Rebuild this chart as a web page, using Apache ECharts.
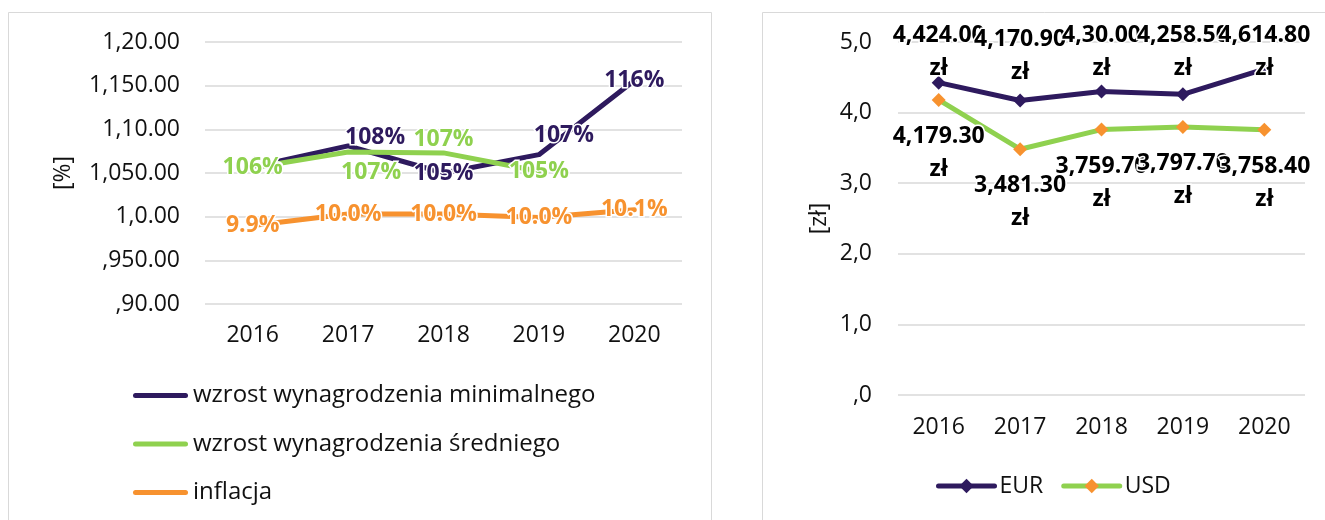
<!DOCTYPE html>
<html>
<head>
<meta charset="utf-8">
<script src="https://cdn.jsdelivr.net/npm/echarts@6/dist/echarts.min.js"></script>
<style>
  html, body { margin: 0; padding: 0; background: #fff; }
  #chart { width: 1325px; height: 520px; }
</style>
</head>
<body>
<div id="chart"></div>
<script>
// ---- data ----
const years = ['2016', '2017', '2018', '2019', '2020'];

// growth indices (previous year = 1.00)
const minWageGrowth = [1.057, 1.081, 1.050, 1.071, 1.156];
const avgWageGrowth = [1.056, 1.074, 1.073, 1.052, null];
const inflation = [0.990, 1.003, 1.003, 0.999, 1.008];
const growthTicks = [',90.00', ',950.00', '1,0.00', '1,050.00', '1,10.00', '1,150.00', '1,20.00'];

// exchange rates, PLN per unit
const eurRate = [4.424, 4.1709, 4.30, 4.2585, 4.6148];
const usdRate = [4.1793, 3.4813, 3.7597, 3.7977, 3.7584];
const rateTicks = [',0', '1,0', '2,0', '3,0', '4,0', '5,0'];

// ---- styling ----
const FONT = 'Open Sans';
const PURPLE = '#2e1a5e';
const GREEN = '#8fd14f';
const ORANGE = '#f7922f';
const GRID_COLOR = '#d9d9d9';
const TEXT = '#111';

// label nudges per point (dx, dy), for labels that sit beside the line
const minWageLabelShift = [[0, 0], [27, -8], [0, 0], [25, -19], [0, 0]];
const avgWageLabelShift = [[0, 0], [23, 20], [0, -13], [0, 0], [0, 0]];

// value labels of the rate chart follow the workbook's odd number format:
// whole part, comma, first fraction digits, then a dot before the rest
function rateLabel(v) {
  const parts = String(v).split('.');
  const frac = parts[1] || '';
  const head = frac.slice(0, 3).padEnd(2, '0');
  const tail = frac.slice(3).padEnd(2, '0');
  return parts[0] + ',' + head + '.' + tail + '\nzł';
}

function tickFrom(list, min, step) {
  return function (value) {
    return list[Math.round((value - min) / step)] || '';
  };
}

const labelBase = {
  show: true,
  fontFamily: FONT,
  fontSize: 23,
  fontWeight: 'bold',
  textBorderColor: '#fff',
  textBorderWidth: 3
};

function withShift(values, shifts) {
  return values.map((v, i) => ({ value: v, label: { offset: shifts[i] } }));
}

const PLOT_TOP = 18.5; // top edge available to the rate labels

const chart = echarts.init(document.getElementById('chart'), null, { renderer: 'canvas' });

chart.setOption({
  animation: false,
  backgroundColor: '#fff',
  textStyle: { fontFamily: FONT },
  graphic: [
    { type: 'rect', silent: true, z: -10,
      shape: { x: 8.5, y: 12.5, width: 703, height: 540 },
      style: { fill: null, stroke: GRID_COLOR, lineWidth: 1 } },
    { type: 'rect', silent: true, z: -10,
      shape: { x: 762.5, y: 12.5, width: 620, height: 540 },
      style: { fill: null, stroke: GRID_COLOR, lineWidth: 1 } }
  ],
  grid: [
    { left: 205, top: 42, width: 477, height: 262 },
    { left: 898, top: 42, width: 407, height: 353 }
  ],
  xAxis: [
    { type: 'category', gridIndex: 0, data: years, boundaryGap: true,
      axisLine: { show: false }, axisTick: { show: false },
      axisLabel: { fontFamily: FONT, fontSize: 23, color: TEXT, margin: 20 } },
    { type: 'category', gridIndex: 1, data: years, boundaryGap: true,
      axisLine: { show: false }, axisTick: { show: false },
      axisLabel: { fontFamily: FONT, fontSize: 23, color: TEXT, margin: 21 } }
  ],
  yAxis: [
    { type: 'value', gridIndex: 0, min: 0.9, max: 1.2, interval: 0.05,
      name: '[%]', nameLocation: 'middle', nameGap: 130,
      nameTextStyle: { fontFamily: FONT, fontSize: 23, color: TEXT },
      axisLine: { show: false }, axisTick: { show: false },
      axisLabel: { fontFamily: FONT, fontSize: 23, color: TEXT, margin: 25,
                   formatter: tickFrom(growthTicks, 0.9, 0.05) },
      splitLine: { lineStyle: { color: GRID_COLOR, width: 1.5 } } },
    { type: 'value', gridIndex: 1, min: 0, max: 5, interval: 1,
      name: '[zł]', nameLocation: 'middle', nameGap: 67,
      nameTextStyle: { fontFamily: FONT, fontSize: 23, color: TEXT },
      axisLine: { show: false }, axisTick: { show: false },
      axisLabel: { fontFamily: FONT, fontSize: 23, color: TEXT, margin: 26,
                   formatter: tickFrom(rateTicks, 0, 1) },
      splitLine: { lineStyle: { color: GRID_COLOR, width: 1.5 } } }
  ],
  legend: [
    { data: ['wzrost wynagrodzenia minimalnego', 'wzrost wynagrodzenia średniego', 'inflacja'],
      orient: 'vertical', left: 133, top: 383.5, padding: 0, itemGap: 24.5,
      itemWidth: 55, itemHeight: 5,
      icon: 'path://M2.5,0H52.5A2.5,2.5,0,0,1,52.5,5H2.5A2.5,2.5,0,0,1,2.5,0Z',
      selectedMode: false,
      textStyle: { fontFamily: FONT, fontSize: 24, color: TEXT } },
    { data: ['EUR', 'USD'],
      orient: 'horizontal', left: 936, top: 474.5, padding: 0, itemGap: 18,
      itemWidth: 56, itemHeight: 18,
      selectedMode: false,
      lineStyle: { width: 5, cap: 'round' },
      textStyle: { fontFamily: FONT, fontSize: 23, color: TEXT } }
  ],
  series: [
    { name: 'wzrost wynagrodzenia minimalnego', type: 'line', xAxisIndex: 0, yAxisIndex: 0,
      data: withShift(minWageGrowth, minWageLabelShift),
      symbol: 'circle', symbolSize: 1,
      itemStyle: { color: PURPLE },
      lineStyle: { color: PURPLE, width: 5, cap: 'round', join: 'round' },
      label: Object.assign({}, labelBase, { position: 'inside', color: PURPLE,
        formatter: p => Math.round(p.value * 100) + '%' }),
      emphasis: { disabled: true } },
    { name: 'wzrost wynagrodzenia średniego', type: 'line', xAxisIndex: 0, yAxisIndex: 0,
      data: withShift(avgWageGrowth, avgWageLabelShift),
      symbol: 'circle', symbolSize: 1,
      itemStyle: { color: GREEN },
      lineStyle: { color: GREEN, width: 5, cap: 'round', join: 'round' },
      label: Object.assign({}, labelBase, { position: 'inside', color: GREEN,
        formatter: p => Math.round(p.value * 100) + '%' }),
      emphasis: { disabled: true } },
    { name: 'inflacja', type: 'line', xAxisIndex: 0, yAxisIndex: 0,
      data: inflation,
      symbol: 'circle', symbolSize: 1,
      itemStyle: { color: ORANGE },
      lineStyle: { color: ORANGE, width: 5, cap: 'round', join: 'round' },
      label: Object.assign({}, labelBase, { position: 'inside', color: ORANGE,
        formatter: p => (p.value * 10).toFixed(1) + '%' }),
      emphasis: { disabled: true } },
    { name: 'EUR', type: 'line', xAxisIndex: 1, yAxisIndex: 1,
      data: eurRate,
      symbol: 'diamond', symbolSize: 14,
      itemStyle: { color: PURPLE },
      lineStyle: { color: PURPLE, width: 5, join: 'round' },
      label: Object.assign({}, labelBase, { position: 'top', distance: 5, color: '#000',
        lineHeight: 33, formatter: p => rateLabel(p.value) }),
      // labels that would leave the plot area are pushed down to its top edge
      labelLayout: function (p) {
        const r = p.labelRect;
        return { x: r.x + r.width / 2, y: Math.max(r.y, PLOT_TOP), align: 'center', verticalAlign: 'top' };
      },
      emphasis: { disabled: true } },
    { name: 'USD', type: 'line', xAxisIndex: 1, yAxisIndex: 1,
      data: usdRate,
      symbol: 'diamond', symbolSize: 14,
      itemStyle: { color: ORANGE },
      lineStyle: { color: GREEN, width: 5, join: 'round' },
      label: Object.assign({}, labelBase, { position: 'bottom', distance: 13, color: '#000',
        lineHeight: 33, formatter: p => rateLabel(p.value) }),
      emphasis: { disabled: true } }
  ]
});
</script>
</body>
</html>
